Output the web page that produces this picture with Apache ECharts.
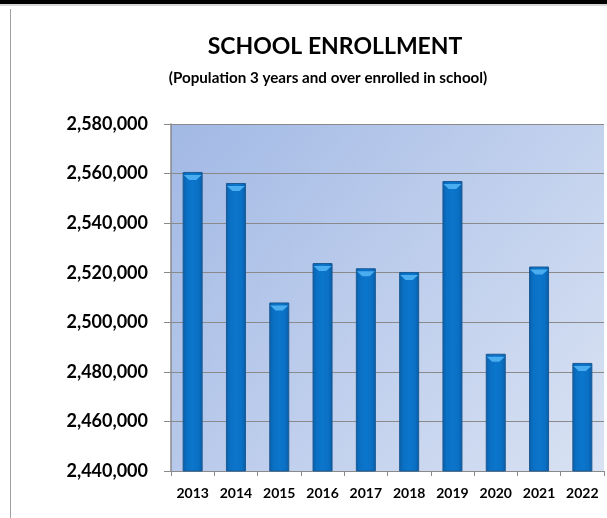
<!DOCTYPE html>
<html>
<head>
<meta charset="utf-8">
<script src="https://cdn.jsdelivr.net/npm/echarts@6/dist/echarts.min.js"></script>
<style>
html,body{margin:0;padding:0;background:#fff;}
#chart{width:607px;height:518px;}
</style>
</head>
<body>
<div id="chart"></div>
<script>
const years = ['2013','2014','2015','2016','2017','2018','2019','2020','2021','2022'];
const enrollment = [2560650, 2556200, 2508000, 2523900, 2521800, 2520300, 2557000, 2487300, 2522500, 2483600];
const yMin = 2440000, yMax = 2580000, yStep = 20000;
const titleText = 'SCHOOL ENROLLMENT';
const subtitleText = '(Population 3 years and over enrolled in school)';

const font = 'Lato, "Open Sans", sans-serif';
const chart = echarts.init(document.getElementById('chart'), null, {renderer: 'canvas'});
chart.setOption({
  animation: false,
  backgroundColor: '#fff',
  title: [
    {
      text: titleText,
      left: 330, textAlign: 'center', top: 30,
      textStyle: {fontFamily: font, fontWeight: 'bold', fontSize: 23, color: '#000'}
    },
    {
      text: subtitleText,
      left: 323, textAlign: 'center', top: 66,
      textStyle: {fontFamily: font, fontWeight: 'bold', fontSize: 15.2, color: '#000'}
    }
  ],
  graphic: [
    {type: 'rect', shape: {x: 0, y: 0, width: 607, height: 4}, style: {fill: '#000'}, silent: true},
    {type: 'line', shape: {x1: 0, y1: 5, x2: 607, y2: 5}, style: {stroke: '#b0b0b0', lineWidth: 1}, silent: true},
    {type: 'line', shape: {x1: 10.5, y1: 9, x2: 10.5, y2: 518}, style: {stroke: '#a0a0a0', lineWidth: 1}, silent: true}
  ],
  grid: {
    left: 171, right: 3, top: 124, bottom: 47,
    show: true, borderWidth: 0,
    backgroundColor: new echarts.graphic.LinearGradient(0, 0, 1, 1, [
      {offset: 0, color: '#a2b9e5'},
      {offset: 1, color: '#d9e2f3'}
    ])
  },
  xAxis: {
    type: 'category', data: years,
    axisLine: {lineStyle: {color: '#8a8a8a', width: 1}},
    axisTick: {show: true, length: 5, lineStyle: {color: '#8a8a8a'}},
    axisLabel: {fontFamily: font, fontWeight: 'bold', fontSize: 14, color: '#000', margin: 15}
  },
  yAxis: {
    type: 'value', min: yMin, max: yMax, interval: yStep,
    axisLine: {show: true, lineStyle: {color: '#8a8a8a', width: 1.5}},
    axisTick: {show: true, length: 7, lineStyle: {color: '#8a8a8a'}},
    splitLine: {lineStyle: {color: '#8a8a8a', width: 1.2}},
    axisLabel: {
      fontFamily: font, fontWeight: 'bold', fontSize: 18, color: '#000', margin: 23,
      formatter: v => v.toLocaleString('en-US')
    }
  },
  series: [
    {
      type: 'bar', data: enrollment, barWidth: 20,
      itemStyle: {
        color: new echarts.graphic.LinearGradient(0, 0, 1, 0, [
          {offset: 0, color: '#0a5da8'},
          {offset: 0.2, color: '#0a70c4'},
          {offset: 0.5, color: '#0b76cc'},
          {offset: 0.8, color: '#0a70c4'},
          {offset: 1, color: '#0a5aa3'}
        ]),
        borderColor: '#1a5a94', borderWidth: 1
      },
      z: 2
    },
    {
      type: 'pictorialBar', data: enrollment,
      symbol: 'path://M0,0 L20,0 L14,6 L6,6 Z',
      symbolSize: [18, 5], symbolPosition: 'end', symbolOffset: [0, '60%'],
      itemStyle: {color: '#49adf0'},
      barGap: '-100%', z: 3, silent: true
    }
  ]
});
</script>
</body>
</html>
